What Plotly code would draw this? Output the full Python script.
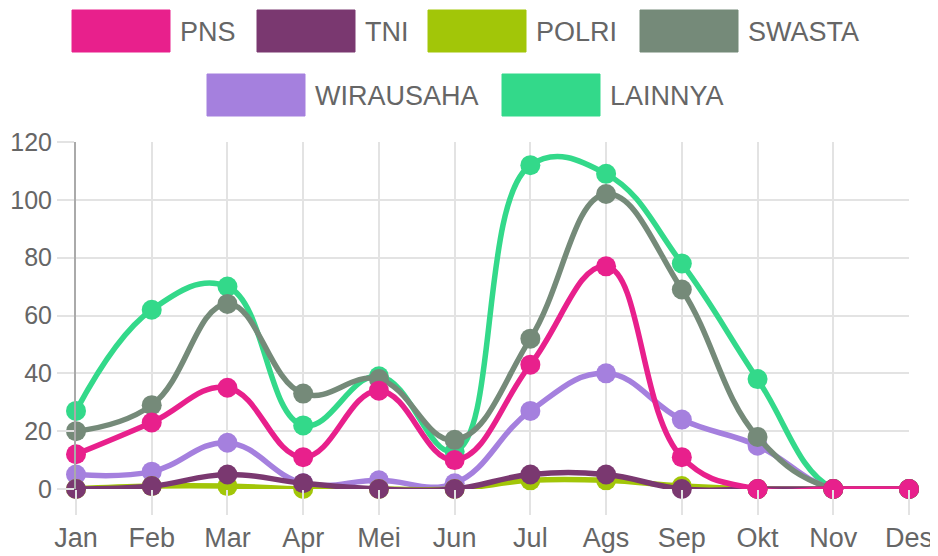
import plotly.graph_objects as go

months = ["Jan", "Feb", "Mar", "Apr", "Mei", "Jun", "Jul", "Ags", "Sep", "Okt", "Nov", "Des"]
series_names = ["PNS", "TNI", "POLRI", "SWASTA", "WIRAUSAHA", "LAINNYA"]
pns = [12, 23, 35, 11, 34, 10, 43, 77, 11, 0, 0, 0]
tni = [0, 1, 5, 2, 0, 0, 5, 5, 0, 0, 0, 0]
polri = [0, 1, 1, 0, 0, 0, 3, 3, 1, 0, 0, 0]
swasta = [20, 29, 64, 33, 38, 17, 52, 102, 69, 18, 0, 0]
wirausaha = [5, 6, 16, 2, 3, 2, 27, 40, 24, 15, 0, 0]
lainnya = [27, 62, 70, 22, 39, 13, 112, 109, 78, 38, 0, 0]
series_values = [pns, tni, polri, swasta, wirausaha, lainnya]
colors = ["#E8208C", "#7A3870", "#A2C608", "#758A79", "#A580DE", "#33D98A"]

# the page body has an 8px margin, so the figure is drawn 8px in from the window edge
OFF = 8
W, H = 938 - OFF, 556 - OFF
L, R, T, B = 76 - OFF, 29, 142 - OFF, 67
PW, PH = W - L - R, H - T - B
FONT = "Liberation Sans Narrow, Liberation Sans, Arial, sans-serif"

fig = go.Figure()
# Chart.js draws the first dataset on top -> add traces in reverse order
for name, vals, col in reversed(list(zip(series_names, series_values, colors))):
    fig.add_trace(go.Scatter(
        x=months, y=vals, name=name, mode="lines+markers",
        line=dict(color=col, width=5.5, shape="spline", smoothing=1.2),
        marker=dict(color=col, size=20),
        cliponaxis=False, showlegend=False,
    ))

def px_x(px):  # window pixel -> paper fraction
    return (px - OFF - L) / PW

def px_y(py):
    return (H - B - (py - OFF)) / PH

# manual legend (Chart.js style boxes), window pixel positions of each box
legend_pos = [
    (72, 10), (257, 10), (428, 10), (640, 10),
    (207, 74), (502, 74),
]
shapes = []
annotations = []
for (bx, by), name, col in zip(legend_pos, series_names, colors):
    shapes.append(dict(type="rect", xref="paper", yref="paper",
                       x0=px_x(bx), x1=px_x(bx + 98), y0=px_y(by + 42), y1=px_y(by),
                       fillcolor=col, line=dict(color=col, width=1), layer="above"))
    annotations.append(dict(xref="paper", yref="paper", x=px_x(bx + 106), y=px_y(by + 22),
                            text=name, showarrow=False, xanchor="left", yanchor="middle",
                            font=dict(family=FONT, size=27, color="#666666")))

fig.update_layout(
    width=W, height=H,
    margin=dict(l=L, r=R, t=T, b=B, pad=0),
    paper_bgcolor="white", plot_bgcolor="white",
    shapes=shapes, annotations=annotations,
    font=dict(family=FONT, size=27, color="#666666"),
    xaxis=dict(
        type="category", range=[0, 11], showgrid=True, gridcolor="#E3E3E3", gridwidth=1.5,
        ticks="outside", ticklen=25, tickcolor="#E3E3E3", tickwidth=1.5, automargin=False,
        zeroline=False, showline=False, tickfont=dict(size=27, color="#666666"),
    ),
    yaxis=dict(
        range=[0, 120], tickvals=[0, 20, 40, 60, 80, 100, 120], showgrid=True,
        gridcolor="#E3E3E3", gridwidth=1.5, ticks="outside", ticklen=17, tickcolor="#E3E3E3",
        tickwidth=1.5, zeroline=False, showline=True, linecolor="#AAAAAA", linewidth=2,
        automargin=False, tickfont=dict(size=25, color="#666666"),
    ),
)

fig.write_html("out.html")
